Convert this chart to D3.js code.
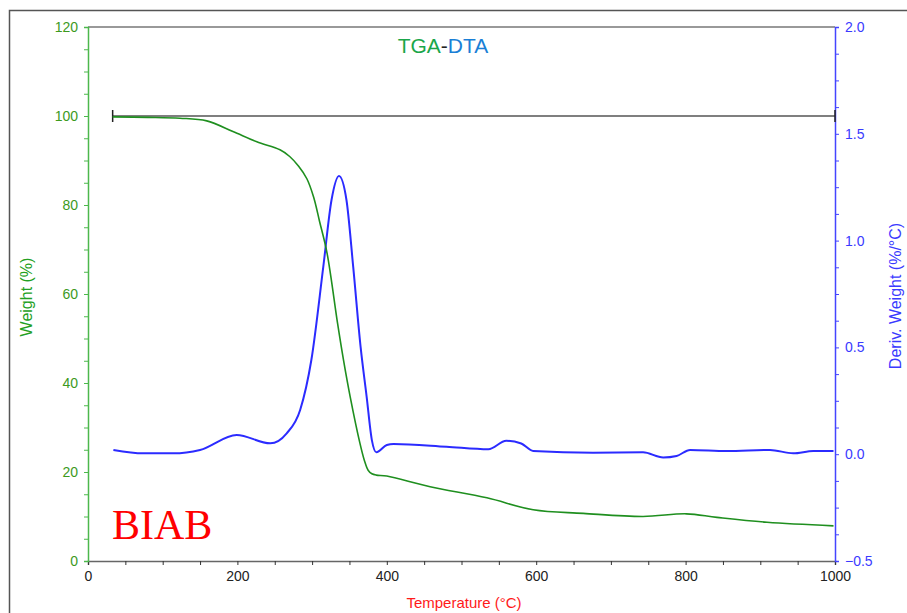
<!DOCTYPE html>
<html>
<head>
<meta charset="utf-8">
<script src="https://cdn.jsdelivr.net/npm/d3@7"></script>
<style>
	body { margin: 0; background: #fff; }
	svg text { font-family: "Liberation Sans", Arial, sans-serif; }
</style>
</head>
<body>
<svg id="chart" width="907" height="613"></svg>
<script>
// Temperature (°C) / weight (%)
const tgaTemp = [33, 80, 123, 159, 194, 226, 257, 270, 282, 293, 302, 310, 320, 334, 342, 351, 364, 370, 375, 380, 386, 400, 458, 534, 596, 663, 743, 801, 842, 909, 998];
const tgaWeight = [99.8, 99.7, 99.5, 98.9, 96.5, 94.2, 92.4, 90.9, 88.7, 85.9, 81.8, 76.3, 69.2, 53.5, 45.2, 36.9, 26.5, 22.6, 20.4, 19.6, 19.3, 19.1, 16.7, 14.2, 11.5, 10.7, 10.0, 10.6, 9.8, 8.7, 7.9];

// Temperature (°C) / derivative weight (%/°C)
const dtaTemp = [34, 74, 114, 150, 199, 244, 266, 284, 299, 315, 326, 336, 346, 355, 365, 373, 380, 386, 400, 409, 480, 536, 560, 580, 596, 676, 743, 770, 788, 806, 855, 913, 944, 971, 998];
const dtaDeriv = [0.02, 0.004, 0.004, 0.02, 0.09, 0.051, 0.098, 0.207, 0.441, 0.878, 1.19, 1.302, 1.19, 0.878, 0.5, 0.27, 0.066, 0.009, 0.043, 0.048, 0.035, 0.023, 0.063, 0.05, 0.015, 0.007, 0.009, -0.015, -0.008, 0.02, 0.015, 0.02, 0.004, 0.015, 0.015];

// reference line at 100 %
const refStart = 33;
const refEnd = 1000;
const refWeight = 100;

const xTickLabels = [0, 200, 400, 600, 800, 1000];
const leftTickLabels = [0, 20, 40, 60, 80, 100, 120];
const rightTickLabels = [-0.5, 0.0, 0.5, 1.0, 1.5, 2.0];

const svg = d3.select('#chart');
const plotLeft = 88, plotRight = 835, plotTop = 27, plotBottom = 561;

const x = d3.scaleLinear().domain([0, 1000]).range([plotLeft, plotRight]);
const yW = d3.scaleLinear().domain([0, 120]).range([plotBottom, plotTop]);
const yD = d3.scaleLinear().domain([-0.5, 2.0]).range([plotBottom, plotTop]);

// outer frame
svg.append('rect').attr('x', 9.5).attr('y', 10.5).attr('width', 940).attr('height', 640)
	.attr('fill', 'none').attr('stroke', '#555').attr('stroke-width', 1.5);

// top border of the plot
svg.append('line').attr('x1', plotLeft).attr('x2', plotRight).attr('y1', plotTop).attr('y2', plotTop)
	.attr('stroke', '#777').attr('stroke-width', 1.5);

// x axis
const xAxis = d3.axisBottom(x).tickValues(d3.range(0, 1001, 50)).tickSize(4)
	.tickFormat(d => xTickLabels.includes(d) ? d : '');
const gx = svg.append('g').attr('transform', 'translate(0,' + plotBottom + ')').call(xAxis);
gx.select('.domain').attr('stroke', '#666').attr('stroke-width', 1.5);
gx.selectAll('.tick line').attr('stroke', '#333');
gx.selectAll('text').attr('fill', '#222').attr('font-size', 14).attr('dy', '0.9em');

// left axis
const yAxisL = d3.axisLeft(yW).tickValues(d3.range(0, 121, 5)).tickSize(4)
	.tickFormat(d => leftTickLabels.includes(d) ? d : '');
const gl = svg.append('g').attr('transform', 'translate(' + plotLeft + ',0)').call(yAxisL);
gl.select('.domain').attr('stroke', '#4cb84c').attr('stroke-width', 1.5);
gl.selectAll('.tick line').attr('stroke', '#4cb84c');
gl.selectAll('text').attr('fill', '#3c9a1e').attr('font-size', 14).attr('x', -10);

// right axis
const yAxisR = d3.axisRight(yD).tickValues(d3.range(-0.5, 2.001, 0.125)).tickSize(4)
	.tickFormat(d => rightTickLabels.some(v => Math.abs(v - d) < 1e-6) ? d3.format('.1f')(d) : '');
const gr = svg.append('g').attr('transform', 'translate(' + plotRight + ',0)').call(yAxisR);
gr.select('.domain').attr('stroke', '#4444ff').attr('stroke-width', 1.5);
gr.selectAll('.tick line').attr('stroke', '#4444ff');
gr.selectAll('text').attr('fill', '#3a3aff').attr('font-size', 14).attr('x', 10);

// 100 % reference line with end markers
svg.append('line').attr('x1', x(refStart)).attr('x2', x(refEnd))
	.attr('y1', yW(refWeight)).attr('y2', yW(refWeight))
	.attr('stroke', '#555').attr('stroke-width', 1.6);
[refStart, refEnd].forEach(t => {
	svg.append('line').attr('x1', x(t)).attr('x2', x(t))
		.attr('y1', yW(refWeight) - 6).attr('y2', yW(refWeight) + 6)
		.attr('stroke', '#222').attr('stroke-width', 1.5);
});

// curves
const tgaLine = d3.line().x(d => x(d[0])).y(d => yW(d[1])).curve(d3.curveCatmullRom.alpha(0.5));
const dtaLine = d3.line().x(d => x(d[0])).y(d => yD(d[1])).curve(d3.curveMonotoneX);

svg.append('path').datum(d3.zip(dtaTemp, dtaDeriv))
	.attr('d', dtaLine).attr('fill', 'none').attr('stroke', '#2b2bff').attr('stroke-width', 2);
svg.append('path').datum(d3.zip(tgaTemp, tgaWeight))
	.attr('d', tgaLine).attr('fill', 'none').attr('stroke', '#1f8f1f').attr('stroke-width', 1.6);

// title
const title = svg.append('text').attr('x', 443).attr('y', 53).attr('text-anchor', 'middle').attr('font-size', 21);
title.append('tspan').attr('fill', '#1aa64a').text('TGA');
title.append('tspan').attr('fill', '#222').text('-');
title.append('tspan').attr('fill', '#1a7fd6').text('DTA');

// axis labels
svg.append('text').attr('x', 464).attr('y', 608).attr('text-anchor', 'middle')
	.attr('font-size', 15).attr('fill', '#ff1a1a').text('Temperature (°C)');
svg.append('text').attr('transform', 'translate(32,297) rotate(-90)').attr('text-anchor', 'middle')
	.attr('font-size', 16).attr('fill', '#22a022').text('Weight (%)');
svg.append('text').attr('transform', 'translate(901,296) rotate(-90)').attr('text-anchor', 'middle')
	.attr('font-size', 16).attr('fill', '#3a3aff').text('Deriv. Weight (%/°C)');

// sample name
svg.append('text').attr('x', 112).attr('y', 539)
	.style('font-family', '"Liberation Serif", "Times New Roman", serif')
	.attr('font-size', 42).attr('fill', '#ff0000').text('BIAB');
</script>
</body>
</html>
